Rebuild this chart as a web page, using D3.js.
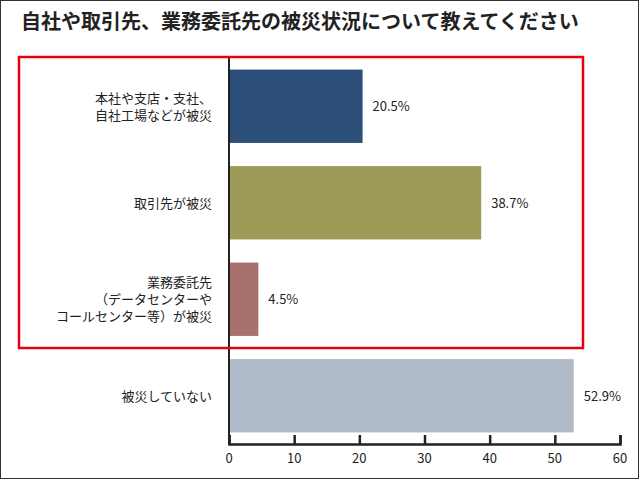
<!DOCTYPE html><html><head><meta charset="utf-8"><script src="https://d3js.org/d3.v7.min.js"></script>
<style>body{margin:0}svg{display:block}text{font-family:"Noto Sans CJK JP",sans-serif}</style></head><body><svg id="c" width="640" height="480"></svg>
<script>
const categories=[["本社や支店・支社、","自社工場などが被災"],["取引先が被災"],["業務委託先","（データセンターや","コールセンター等）が被災"],["被災していない"]];
const values=[20.5,38.7,4.5,52.9];
const colors=["#2b4f78","#9c9c58","#a8706a","#b0bac9"];
const ticks=[0,10,20,30,40,50,60];
const svg=d3.select("#c");
svg.append("rect").attr("x",0.5).attr("y",0.5).attr("width",638).attr("height",478).attr("fill","#fff").attr("stroke","#333");
svg.append("text").attr("x",21).attr("y",29).attr("font-size",20).attr("font-weight","bold").attr("fill","#222").text("自社や取引先、業務委託先の被災状況について教えてください");
const x=d3.scaleLinear().domain([0,60]).range([229,620]);
const y=d3.scaleBand().domain(d3.range(4)).range([58,444]).paddingInner(0.24).paddingOuter(0.12);
values.forEach((v,i)=>{
 svg.append("rect").attr("x",x(0)).attr("y",y(i)).attr("width",x(v)-x(0)).attr("height",y.bandwidth()).attr("fill",colors[i]);
 svg.append("text").attr("x",x(v)+10).attr("y",y(i)+y.bandwidth()/2+5).attr("font-size",13).attr("fill","#222").text(v.toFixed(1)+"%");
 const lines=categories[i];const lh=17;
 lines.forEach((l,j)=>svg.append("text").attr("text-anchor","end").attr("font-size",13).attr("fill","#222")
   .attr("x",212).attr("y",y(i)+y.bandwidth()/2+5+(j-(lines.length-1)/2)*lh).text(l));
});
svg.append("line").attr("x1",x(0)).attr("x2",x(0)).attr("y1",58).attr("y2",445).attr("stroke","#222").attr("stroke-width",2);
const ax=svg.append("g").attr("transform","translate(0,444)").call(d3.axisTop(x).tickValues(ticks).tickSize(9).tickFormat(""));
ax.select(".domain").attr("stroke","#222").attr("stroke-width",2.5);
ax.selectAll(".tick line").attr("stroke","#222").attr("stroke-width",2.5);
ticks.forEach(t=>svg.append("text").attr("x",x(t)).attr("y",463).attr("text-anchor","middle").attr("font-size",13).attr("fill","#222").text(t));
svg.append("rect").attr("x",19).attr("y",57).attr("width",564).attr("height",291).attr("fill","none").attr("stroke","#e60012").attr("stroke-width",2.5);
</script></body></html>
